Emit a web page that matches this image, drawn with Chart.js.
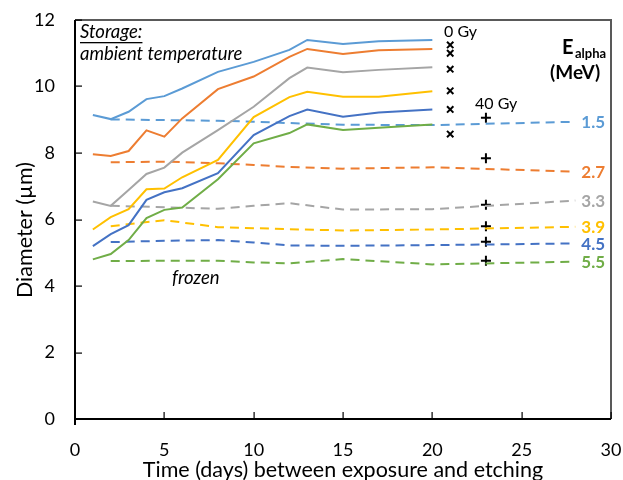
<!DOCTYPE html>
<html>
<head>
<meta charset="utf-8">
<script src="https://cdn.jsdelivr.net/npm/chart.js@4.4.1/dist/chart.umd.min.js"></script>
<style>
    html, body { margin: 0; padding: 0; background: #fff; }
    #wrap { width: 623px; height: 480px; }
</style>
</head>
<body>
<div id="wrap"><canvas id="diameterChart"></canvas></div>
<script>
// days of etching after exposure
const ambientDays = [1, 2, 3, 4, 5, 6, 8, 10, 12, 13, 15, 17, 20];
const frozenDays = [2, 5, 8, 10, 12, 15, 20, 28];

const energies = ['1.5', '2.7', '3.3', '3.9', '4.5', '5.5'];
const colors = ['#5b9bd5', '#ed7d31', '#a5a5a5', '#ffc000', '#4472c4', '#70ad47'];

// storage at ambient temperature (solid lines)
const ambient15 = [9.14, 9.02, 9.24, 9.62, 9.71, 9.94, 10.44, 10.74, 11.1, 11.4, 11.28, 11.36, 11.4];
const ambient27 = [7.96, 7.91, 8.06, 8.68, 8.49, 9.04, 9.92, 10.3, 10.89, 11.13, 10.98, 11.09, 11.13];
const ambient33 = [6.54, 6.41, 6.89, 7.37, 7.56, 8.01, 8.69, 9.39, 10.25, 10.57, 10.43, 10.5, 10.58];
const ambient39 = [5.7, 6.07, 6.31, 6.91, 6.93, 7.27, 7.79, 9.08, 9.68, 9.84, 9.69, 9.69, 9.86];
const ambient45 = [5.2, 5.56, 5.83, 6.59, 6.82, 6.94, 7.39, 8.54, 9.11, 9.31, 9.09, 9.22, 9.31];
const ambient55 = [4.8, 4.96, 5.38, 6.04, 6.29, 6.36, 7.21, 8.29, 8.6, 8.86, 8.69, 8.76, 8.86];

// frozen storage (dashed lines)
const frozen15 = [9.01, 8.99, 8.97, 8.94, 8.9, 8.85, 8.84, 8.94];
const frozen27 = [7.72, 7.74, 7.69, 7.64, 7.58, 7.53, 7.57, 7.44];
const frozen33 = [6.41, 6.37, 6.32, 6.41, 6.49, 6.3, 6.31, 6.57];
const frozen39 = [5.8, 5.98, 5.77, 5.74, 5.71, 5.67, 5.7, 5.78];
const frozen45 = [5.32, 5.36, 5.38, 5.31, 5.22, 5.21, 5.23, 5.28];
const frozen55 = [4.75, 4.76, 4.76, 4.71, 4.68, 4.81, 4.65, 4.73];

// reference diameters
const gy0Day = 21;
const gy0Values = [11.25, 11.0, 10.52, 9.87, 9.31, 8.57];
const gy40Day = 23;
const gy40Values = [9.06, 7.84, 6.44, 5.8, 5.33, 4.76];

const xTicks = [0, 5, 10, 15, 20, 25, 30];
const yTicks = [0, 2, 4, 6, 8, 10, 12];

const ambientSeries = [ambient15, ambient27, ambient33, ambient39, ambient45, ambient55];
const frozenSeries = [frozen15, frozen27, frozen33, frozen39, frozen45, frozen55];

const FONT = 'Lato, "Noto Sans", sans-serif';

function toPoints(xs, ys) {
    return xs.map((x, i) => ({ x: x, y: ys[i] }));
}

const datasets = [];
energies.forEach((e, i) => {
    datasets.push({
        label: e + ' MeV ambient',
        data: toPoints(ambientDays, ambientSeries[i]),
        borderColor: colors[i],
        borderWidth: 2,
        pointRadius: 0,
        tension: 0,
        showLine: true
    });
});
energies.forEach((e, i) => {
    datasets.push({
        label: e + ' MeV frozen',
        data: toPoints(frozenDays, frozenSeries[i]),
        borderColor: colors[i],
        borderWidth: 2,
        borderDash: [9, 6],
        pointRadius: 0,
        tension: 0,
        showLine: true
    });
});
datasets.push({
    label: '0 Gy',
    data: gy0Values.map(v => ({ x: gy0Day, y: v })),
    showLine: false,
    pointStyle: 'crossRot',
    pointRadius: 4.5,
    borderColor: '#000',
    pointBorderWidth: 2
});
datasets.push({
    label: '40 Gy',
    data: gy40Values.map(v => ({ x: gy40Day, y: v })),
    showLine: false,
    pointStyle: 'cross',
    pointRadius: 5,
    borderColor: '#000',
    pointBorderWidth: 2
});

// frame, inward ticks and the text notes
const notesPlugin = {
    id: 'plotNotes',
    afterDraw(chart) {
        const ctx = chart.ctx;
        const xs = chart.scales.x, ys = chart.scales.y;
        // use the scales' own pixel range for the frame
        const L = Math.round(xs.getPixelForValue(0));
        const R = Math.round(xs.getPixelForValue(30));
        const T = Math.round(ys.getPixelForValue(12));
        const B = Math.round(ys.getPixelForValue(0));
        ctx.save();
        ctx.setLineDash([]);
        ctx.fillStyle = '#595959';
        ctx.fillRect(L, T - 1, R - L + 1, 2);
        ctx.fillRect(R - 1, T - 1, 2, B - T + 1);
        ctx.fillStyle = '#000';
        ctx.fillRect(L - 1, T, 2, B - T + 6);
        ctx.fillRect(L - 1, B - 1, R - L + 1, 2);
        xTicks.forEach(t => {
            const px = Math.round(xs.getPixelForValue(t));
            ctx.fillRect(px - 0.5, B - 7, 1.2, 7);
        });
        yTicks.forEach(t => {
            const py = Math.round(ys.getPixelForValue(t));
            ctx.fillRect(L, py - 0.5, 7, 1.2);
        });

        ctx.textBaseline = 'middle';
        ctx.textAlign = 'left';
        ctx.fillStyle = '#000';

        ctx.font = 'italic 18.5px ' + FONT;
        ctx.fillText('Storage:', 80, 32);
        const w = ctx.measureText('Storage:').width;
        ctx.fillRect(80, 42, w, 1.3);
        ctx.fillText('ambient temperature', 80, 54);
        ctx.fillText('frozen', 172, 278);

        ctx.font = '16px ' + FONT;
        ctx.fillText('0 Gy', 444, 32);
        ctx.fillText('40 Gy', 475, 104);

        ctx.font = 'bold 20px ' + FONT;
        ctx.fillText('E', 562, 48);
        ctx.font = 'bold 13px ' + FONT;
        ctx.fillText('alpha', 575, 54);
        ctx.font = 'bold 19px ' + FONT;
        ctx.fillText('(MeV)', 550, 73);

        // energy labels at the end of frozen lines
        ctx.font = 'bold 17px ' + FONT;
        const lastDay = frozenDays[frozenDays.length - 1];
        energies.forEach((e, i) => {
            const s = frozenSeries[i];
            ctx.fillStyle = colors[i];
            ctx.fillText(e, xs.getPixelForValue(lastDay) + 6, ys.getPixelForValue(s[s.length - 1]) + 1);
        });

        // y axis title
        ctx.fillStyle = '#000';
        ctx.font = '21.5px ' + FONT;
        ctx.textAlign = 'center';
        ctx.translate(25, 230);
        ctx.rotate(-Math.PI / 2);
        ctx.fillText('Diameter (µm)', 0, 0);
        ctx.restore();
    }
};

new Chart(document.getElementById('diameterChart'), {
    type: 'scatter',
    data: { datasets: datasets },
    options: {
        responsive: true,
        maintainAspectRatio: false,
        animation: false,
        layout: { padding: { top: 20, right: 12, left: 0, bottom: 0 } },
        plugins: {
            legend: { display: false },
            tooltip: { enabled: false }
        },
        scales: {
            x: {
                type: 'linear',
                min: 0,
                max: 30,
                afterFit: s => {
                    s.height = 61;
                    s.paddingLeft = 0;
                    s.paddingRight = 0;
                },
                afterBuildTicks: s => { s.ticks = xTicks.map(v => ({ value: v })); },
                grid: { display: false, drawTicks: false },
                border: { display: false },
                ticks: {
                    padding: 20,
                    color: '#000',
                    font: { family: FONT, size: 18 }
                },
                title: {
                    display: true,
                    text: 'Time (days) between exposure and etching',
                    color: '#000',
                    padding: { top: 0, bottom: -3 },
                    font: { family: FONT, size: 21.5 }
                }
            },
            y: {
                min: 0,
                max: 12,
                afterFit: s => {
                    s.width = 75;
                    s.paddingTop = 0;
                    s.paddingBottom = 0;
                },
                afterBuildTicks: s => { s.ticks = yTicks.map(v => ({ value: v })); },
                grid: { display: false, drawTicks: false },
                border: { display: false },
                ticks: {
                    padding: 20,
                    color: '#000',
                    font: { family: FONT, size: 18 }
                },
                title: { display: false }
            }
        }
    },
    plugins: [notesPlugin]
});
</script>
</body>
</html>
